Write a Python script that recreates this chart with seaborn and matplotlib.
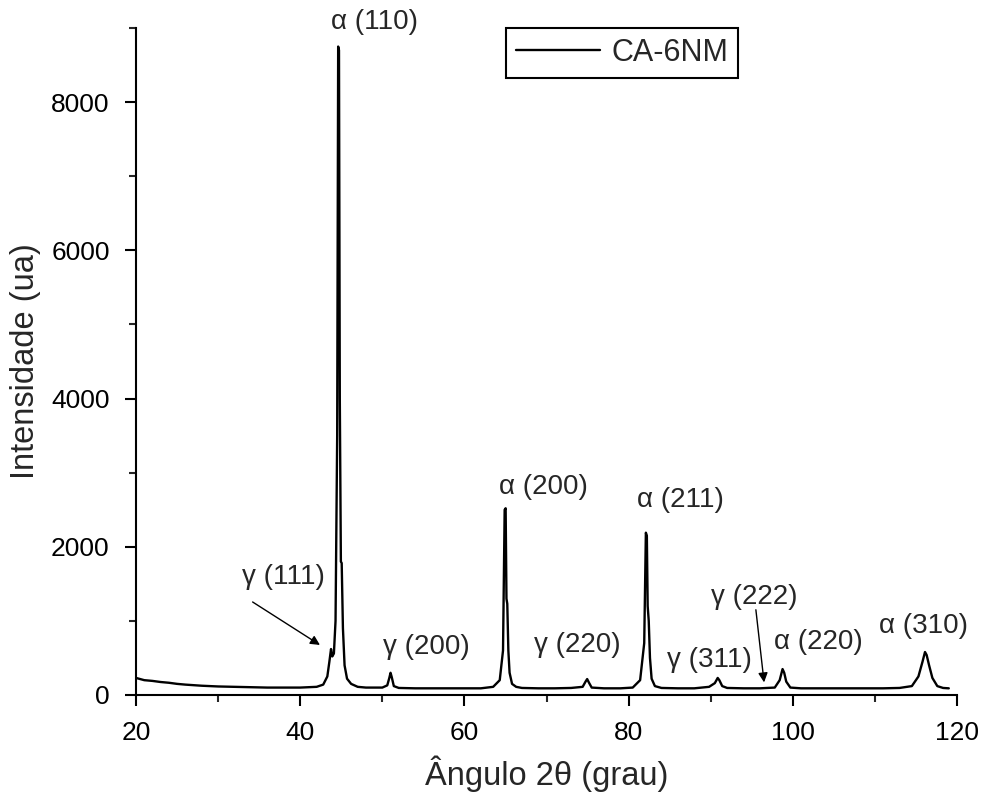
import seaborn as sns
import matplotlib.pyplot as plt
import pandas as pd
from matplotlib.ticker import MultipleLocator

two_theta = [20.0, 20.5, 21.0, 22.0, 23.0, 24.0, 25.0, 26.0, 28.0, 30.0, 32.0, 34.0,
             36.0, 38.0, 40.0, 41.0, 42.0, 42.8, 43.3, 43.55, 43.75, 43.9, 44.1, 44.3,
             44.5, 44.62, 44.72, 44.82, 44.95, 45.05, 45.2, 45.4, 45.7, 46.2, 47.0, 48.0,
             49.0, 50.0, 50.6, 50.85, 51.0, 51.15, 51.4, 52.0, 54.0, 56.0, 58.0, 60.0,
             62.0, 63.5, 64.3, 64.7, 64.9, 65.02, 65.12, 65.22, 65.35, 65.5, 65.8, 66.3,
             67.0, 69.0, 71.0, 73.0, 74.4, 74.75, 74.95, 75.15, 75.5, 77.0, 79.0, 80.5,
             81.4, 81.9, 82.1, 82.22, 82.32, 82.45, 82.6, 82.8, 83.2, 84.0, 86.0, 88.0,
             89.8, 90.5, 90.85, 91.05, 91.4, 92.0, 94.0, 96.0, 97.8, 98.4, 98.75, 98.95,
             99.2, 99.7, 101.0, 103.0, 105.0, 107.0, 109.0, 111.0, 113.0, 114.5, 115.3,
             115.8, 116.1, 116.3, 116.6, 117.0, 117.6, 118.3, 119.0]
intensity = [230, 215, 200, 190, 175, 165, 150, 140, 125, 115, 110, 105,
             100, 100, 100, 105, 110, 140, 250, 450, 620, 520, 560, 1000,
             3500, 8750, 8700, 4000, 1800, 1780, 900, 400, 220, 150, 110, 100,
             100, 100, 130, 230, 300, 240, 120, 95, 90, 90, 90, 90,
             90, 110, 200, 600, 2500, 2520, 1300, 1230, 600, 300, 150, 110,
             95, 90, 90, 95, 110, 180, 215, 170, 100, 90, 90, 100,
             200, 700, 2190, 2150, 1200, 1000, 500, 220, 120, 95, 90, 90,
             110, 160, 230, 200, 120, 95, 90, 90, 100, 200, 350, 300,
             180, 100, 90, 90, 90, 90, 90, 90, 95, 120, 250,
             450, 580, 540, 400, 230, 120, 95, 90]

# rotulos dos picos: texto, posicao do texto
peak_labels = ["α (110)", "α (200)", "α (211)", "γ (200)", "γ (220)",
               "γ (311)", "α (220)", "α (310)"]
label_x = [49.1, 69.6, 86.3, 55.4, 73.8, 89.9, 103.1, 115.9]
label_y = [9080, 2800, 2630, 650, 675, 470, 715, 930]

# rotulos com seta: texto, posicao do texto, ponta da seta
arrow_labels = ["γ (111)", "γ (222)"]
arrow_text_x = [38.0, 95.3]
arrow_text_y = [1590, 1320]
arrow_start_x = [34.2, 95.5]
arrow_start_y = [1255, 1150]
arrow_tip_x = [42.4, 96.5]
arrow_tip_y = [675, 170]

df = pd.DataFrame({"Ângulo 2θ (grau)": two_theta, "Intensidade (ua)": intensity})

sns.set_style("ticks")
plt.rcParams['font.family'] = ['Liberation Sans', 'DejaVu Sans']

fig = plt.figure(figsize=(10.04, 7.94), dpi=100)
ax = fig.add_axes([0.1355, 0.1247, 0.8177, 0.840])

sns.lineplot(data=df, x="Ângulo 2θ (grau)", y="Intensidade (ua)", sort=False,
             color="black", linewidth=1.7, label="CA-6NM", ax=ax)

ax.set_xlim(20, 120)
ax.set_ylim(0, 9000)
ax.xaxis.set_major_locator(MultipleLocator(20))
ax.xaxis.set_minor_locator(MultipleLocator(10))
ax.yaxis.set_major_locator(MultipleLocator(2000))
ax.yaxis.set_minor_locator(MultipleLocator(1000))
ax.tick_params(which="major", direction="out", length=8, width=1.5,
               labelsize=19, colors="black", pad=11)
ax.tick_params(which="minor", direction="out", length=5, width=1.5)

sns.despine(ax=ax)
for s in ["left", "bottom"]:
    ax.spines[s].set_linewidth(1.5)
    ax.spines[s].set_color("black")

ax.set_xlabel("Ângulo 2θ (grau)", fontsize=23.5, labelpad=7)
ax.set_ylabel("Intensidade (ua)", fontsize=23.5, labelpad=7)

for txt, x, y in zip(peak_labels, label_x, label_y):
    ax.text(x, y, txt, ha="center", va="center", fontsize=20, clip_on=False)

for txt, tx, ty, sx, sy, ex, ey in zip(arrow_labels, arrow_text_x, arrow_text_y,
                                       arrow_start_x, arrow_start_y, arrow_tip_x, arrow_tip_y):
    ax.text(tx, ty, txt, ha="center", va="center", fontsize=20)
    ax.annotate("", xy=(ex, ey), xytext=(sx, sy),
                arrowprops=dict(arrowstyle="-|>", color="black", lw=1.0,
                                mutation_scale=14, shrinkA=0, shrinkB=0))

leg = ax.legend(loc="upper left", bbox_to_anchor=(0.451, 1.0), borderaxespad=0,
                fontsize=22, frameon=True, fancybox=False, framealpha=1,
                handlelength=2.75, handletextpad=0.36, borderpad=0.33)
leg.get_frame().set_edgecolor("black")
leg.get_frame().set_linewidth(1.5)

plt.savefig("out.png", dpi=100)
